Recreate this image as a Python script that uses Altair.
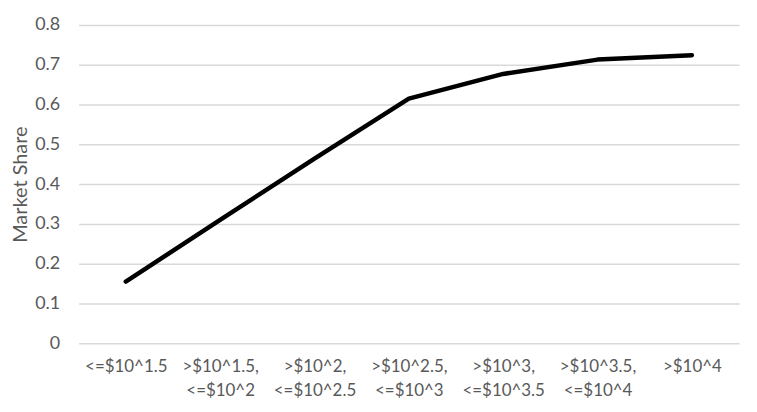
import altair as alt
import pandas as pd

categories = ["<=$10^1.5", ">$10^1.5, <=$10^2", ">$10^2, <=$10^2.5", ">$10^2.5, <=$10^3",
              ">$10^3, <=$10^3.5", ">$10^3.5, <=$10^4", ">$10^4"]
market_share = [0.155, 0.31, 0.464, 0.615, 0.677, 0.713, 0.724]

df = pd.DataFrame({"bucket": categories, "share": market_share})

FONT = "Lato"
GREY = "#595959"

chart = alt.Chart(df).mark_line(color="black", strokeWidth=4.5, strokeCap="round", strokeJoin="round").encode(
    x=alt.X("bucket:N", sort=categories, title=None,
            scale=alt.Scale(paddingInner=0, paddingOuter=0),
            axis=alt.Axis(labelAngle=0, labelExpr="split(datum.label, ' ')", labelFont=FONT,
                          labelFontSize=17, labelColor=GREY, labelPadding=15, labelLineHeight=25,
                          ticks=False, domain=False, grid=False, labelBaseline="top")),
    y=alt.Y("share:Q", title="Market Share",
            scale=alt.Scale(domain=[0, 0.8]),
            axis=alt.Axis(values=[0, 0.1, 0.2, 0.3, 0.4, 0.5, 0.6, 0.7, 0.8], format="~g",
                          labelFont=FONT, labelFontSize=18, labelColor=GREY, labelPadding=19,
                          titleFont=FONT, titleFontSize=20, titleColor=GREY, titleFontWeight="normal",
                          titlePadding=4, ticks=False, domain=False,
                          gridColor="#d9d9d9", gridWidth=1.5)),
).properties(
    width=664, height=320,
    autosize=alt.AutoSizeParams(type="none"),
    padding={"left": 71, "top": 16, "right": 10, "bottom": 60},
).configure_view(stroke=None)

chart.save("out.html", embed_options={"renderer": "svg", "actions": False})
